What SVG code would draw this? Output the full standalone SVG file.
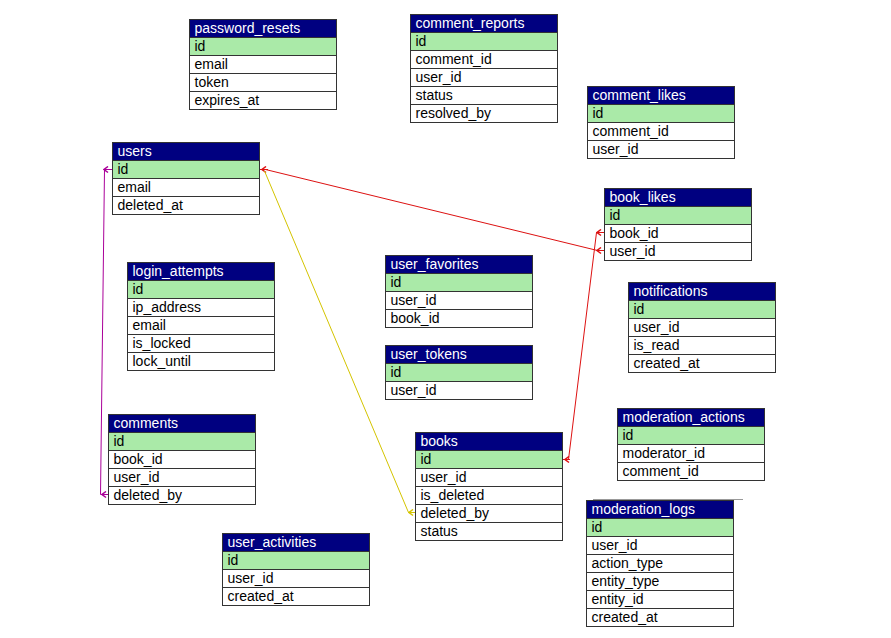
<svg xmlns="http://www.w3.org/2000/svg" width="891" height="638" viewBox="0 0 891 638">
<style>
.h{fill:#000080;stroke:#333;stroke-width:1}
.pk{fill:#aaeaa8;stroke:#333;stroke-width:1}
.r{fill:#fff;stroke:#333;stroke-width:1}
text{font-family:"Liberation Sans",Arial,sans-serif;font-size:14px;fill:#000}
.ht{fill:#fff}
.c{fill:none;stroke-width:1}
.mag{stroke:#aa0099}
.red{stroke:#dd1111}
.yel{stroke:#d4c400}
</style>
<defs>
<marker id="chM" markerWidth="8" markerHeight="8" refX="1" refY="4" orient="0" markerUnits="userSpaceOnUse"><path d="M5,1 L1,4 L5,7" fill="none" stroke="#aa0099" stroke-width="1.5"/></marker>
<marker id="chR" markerWidth="8" markerHeight="8" refX="1" refY="4" orient="0" markerUnits="userSpaceOnUse"><path d="M5,1 L1,4 L5,7" fill="none" stroke="#dd1111" stroke-width="1.5"/></marker>
<marker id="chY" markerWidth="8" markerHeight="8" refX="1" refY="4" orient="0" markerUnits="userSpaceOnUse"><path d="M5,1 L1,4 L5,7" fill="none" stroke="#d4c400" stroke-width="1.5"/></marker>
</defs>
<rect width="891" height="638" fill="#fff"/>

<g id="connectors">
<path class="c mag" d="M112.5,169.5 H104.5 L100.5,494.5 H108"/>
<path class="c mag" d="M108,169.5 H104" marker-end="url(#chM)"/>
<path class="c mag" d="M108,494.5 H102" marker-end="url(#chM)"/>
<path class="c red" d="M604,250.5 H597.5 L265.5,169.5 H259"/>
<path class="c red" d="M268,169.5 H262" marker-end="url(#chR)"/>
<path class="c red" d="M604,250.5 H597" marker-end="url(#chR)"/>
<path class="c red" d="M604,232.5 H596.5 L568.5,459.5 H562"/>
<path class="c red" d="M604,232.5 H597" marker-end="url(#chR)"/>
<path class="c red" d="M570,459.5 H565" marker-end="url(#chR)"/>
<path class="c yel" d="M264.5,171 L408.5,512.5 H415"/>
<path class="c yel" d="M415,512.5 H409" marker-end="url(#chY)"/>
</g>

<line x1="593" y1="499.5" x2="743" y2="499.5" stroke="#999" stroke-width="1"/>

<g id="password_resets" transform="translate(189.5,19.5)">
<rect class="h" width="147" height="18"/><text class="ht" x="5" y="13">password_resets</text>
<rect class="pk" y="18" width="147" height="18"/><text x="5" y="31">id</text>
<rect class="r" y="36" width="147" height="18"/><text x="5" y="49">email</text>
<rect class="r" y="54" width="147" height="18"/><text x="5" y="67">token</text>
<rect class="r" y="72" width="147" height="18"/><text x="5" y="85">expires_at</text>
</g>

<g id="comment_reports" transform="translate(410.5,14.5)">
<rect class="h" width="147" height="18"/><text class="ht" x="5" y="13">comment_reports</text>
<rect class="pk" y="18" width="147" height="18"/><text x="5" y="31">id</text>
<rect class="r" y="36" width="147" height="18"/><text x="5" y="49">comment_id</text>
<rect class="r" y="54" width="147" height="18"/><text x="5" y="67">user_id</text>
<rect class="r" y="72" width="147" height="18"/><text x="5" y="85">status</text>
<rect class="r" y="90" width="147" height="18"/><text x="5" y="103">resolved_by</text>
</g>

<g id="comment_likes" transform="translate(587.5,86.5)">
<rect class="h" width="147" height="18"/><text class="ht" x="5" y="13">comment_likes</text>
<rect class="pk" y="18" width="147" height="18"/><text x="5" y="31">id</text>
<rect class="r" y="36" width="147" height="18"/><text x="5" y="49">comment_id</text>
<rect class="r" y="54" width="147" height="18"/><text x="5" y="67">user_id</text>
</g>

<g id="users" transform="translate(112.5,142.5)">
<rect class="h" width="147" height="18"/><text class="ht" x="5" y="13">users</text>
<rect class="pk" y="18" width="147" height="18"/><text x="5" y="31">id</text>
<rect class="r" y="36" width="147" height="18"/><text x="5" y="49">email</text>
<rect class="r" y="54" width="147" height="18"/><text x="5" y="67">deleted_at</text>
</g>

<g id="book_likes" transform="translate(604.5,188.5)">
<rect class="h" width="147" height="18"/><text class="ht" x="5" y="13">book_likes</text>
<rect class="pk" y="18" width="147" height="18"/><text x="5" y="31">id</text>
<rect class="r" y="36" width="147" height="18"/><text x="5" y="49">book_id</text>
<rect class="r" y="54" width="147" height="18"/><text x="5" y="67">user_id</text>
</g>

<g id="login_attempts" transform="translate(127.5,262.5)">
<rect class="h" width="147" height="18"/><text class="ht" x="5" y="13">login_attempts</text>
<rect class="pk" y="18" width="147" height="18"/><text x="5" y="31">id</text>
<rect class="r" y="36" width="147" height="18"/><text x="5" y="49">ip_address</text>
<rect class="r" y="54" width="147" height="18"/><text x="5" y="67">email</text>
<rect class="r" y="72" width="147" height="18"/><text x="5" y="85">is_locked</text>
<rect class="r" y="90" width="147" height="18"/><text x="5" y="103">lock_until</text>
</g>

<g id="user_favorites" transform="translate(385.5,255.5)">
<rect class="h" width="147" height="18"/><text class="ht" x="5" y="13">user_favorites</text>
<rect class="pk" y="18" width="147" height="18"/><text x="5" y="31">id</text>
<rect class="r" y="36" width="147" height="18"/><text x="5" y="49">user_id</text>
<rect class="r" y="54" width="147" height="18"/><text x="5" y="67">book_id</text>
</g>

<g id="notifications" transform="translate(628.5,282.5)">
<rect class="h" width="147" height="18"/><text class="ht" x="5" y="13">notifications</text>
<rect class="pk" y="18" width="147" height="18"/><text x="5" y="31">id</text>
<rect class="r" y="36" width="147" height="18"/><text x="5" y="49">user_id</text>
<rect class="r" y="54" width="147" height="18"/><text x="5" y="67">is_read</text>
<rect class="r" y="72" width="147" height="18"/><text x="5" y="85">created_at</text>
</g>

<g id="user_tokens" transform="translate(385.5,345.5)">
<rect class="h" width="147" height="18"/><text class="ht" x="5" y="13">user_tokens</text>
<rect class="pk" y="18" width="147" height="18"/><text x="5" y="31">id</text>
<rect class="r" y="36" width="147" height="18"/><text x="5" y="49">user_id</text>
</g>

<g id="comments" transform="translate(108.5,414.5)">
<rect class="h" width="147" height="18"/><text class="ht" x="5" y="13">comments</text>
<rect class="pk" y="18" width="147" height="18"/><text x="5" y="31">id</text>
<rect class="r" y="36" width="147" height="18"/><text x="5" y="49">book_id</text>
<rect class="r" y="54" width="147" height="18"/><text x="5" y="67">user_id</text>
<rect class="r" y="72" width="147" height="18"/><text x="5" y="85">deleted_by</text>
</g>

<g id="books" transform="translate(415.5,432.5)">
<rect class="h" width="147" height="18"/><text class="ht" x="5" y="13">books</text>
<rect class="pk" y="18" width="147" height="18"/><text x="5" y="31">id</text>
<rect class="r" y="36" width="147" height="18"/><text x="5" y="49">user_id</text>
<rect class="r" y="54" width="147" height="18"/><text x="5" y="67">is_deleted</text>
<rect class="r" y="72" width="147" height="18"/><text x="5" y="85">deleted_by</text>
<rect class="r" y="90" width="147" height="18"/><text x="5" y="103">status</text>
</g>

<g id="moderation_actions" transform="translate(617.5,408.5)">
<rect class="h" width="147" height="18"/><text class="ht" x="5" y="13">moderation_actions</text>
<rect class="pk" y="18" width="147" height="18"/><text x="5" y="31">id</text>
<rect class="r" y="36" width="147" height="18"/><text x="5" y="49">moderator_id</text>
<rect class="r" y="54" width="147" height="18"/><text x="5" y="67">comment_id</text>
</g>

<g id="moderation_logs" transform="translate(586.5,500.5)">
<rect class="h" width="147" height="18"/><text class="ht" x="5" y="13">moderation_logs</text>
<rect class="pk" y="18" width="147" height="18"/><text x="5" y="31">id</text>
<rect class="r" y="36" width="147" height="18"/><text x="5" y="49">user_id</text>
<rect class="r" y="54" width="147" height="18"/><text x="5" y="67">action_type</text>
<rect class="r" y="72" width="147" height="18"/><text x="5" y="85">entity_type</text>
<rect class="r" y="90" width="147" height="18"/><text x="5" y="103">entity_id</text>
<rect class="r" y="108" width="147" height="18"/><text x="5" y="121">created_at</text>
</g>

<g id="user_activities" transform="translate(222.5,533.5)">
<rect class="h" width="147" height="18"/><text class="ht" x="5" y="13">user_activities</text>
<rect class="pk" y="18" width="147" height="18"/><text x="5" y="31">id</text>
<rect class="r" y="36" width="147" height="18"/><text x="5" y="49">user_id</text>
<rect class="r" y="54" width="147" height="18"/><text x="5" y="67">created_at</text>
</g>
</svg>
